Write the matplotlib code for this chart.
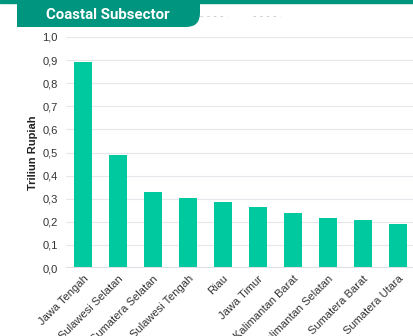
import matplotlib
matplotlib.use("Agg")
import matplotlib.pyplot as plt
from matplotlib.path import Path
from matplotlib.patches import PathPatch, Rectangle
from matplotlib.ticker import FuncFormatter

provinces = ["Jawa Tengah", "Sulawesi Selatan", "Sumatera Selatan", "Sulawesi Tengah",
             "Riau", "Jawa Timur", "Kalimantan Barat", "Kalimantan Selatan",
             "Sumatera Barat", "Sumatera Utara"]
values = [0.89, 0.49, 0.33, 0.305, 0.285, 0.265, 0.24, 0.215, 0.207, 0.19]

W, H = 413, 336
bar_color = "#00C9A0"
head_color = "#00957F"

plt.rcParams["font.family"] = ["Liberation Sans", "DejaVu Sans"]

fig = plt.figure(figsize=(W / 100, H / 100), dpi=100)

def fx(px):
    return px / W

def fy(py):
    return 1 - py / H

# top rule and title tab
fig.patches.append(Rectangle((0, fy(2.5)), 1, 2.5 / H, transform=fig.transFigure,
                             color=head_color, zorder=5))
r = 14
verts = [(17, 2), (200, 2), (200, 27 - r), (200, 27), (200 - r, 27), (17, 27), (17, 2)]
codes = [Path.MOVETO, Path.LINETO, Path.LINETO, Path.CURVE3, Path.CURVE3,
         Path.LINETO, Path.CLOSEPOLY]
tab = Path([(fx(x), fy(y)) for x, y in verts], codes)
fig.patches.append(PathPatch(tab, facecolor=head_color, edgecolor="none",
                             transform=fig.transFigure, zorder=5))
fig.text(fx(108), fy(15), "Coastal Subsector", color="white", fontsize=10.8,
         fontweight="bold", family=["Roboto", "DejaVu Sans"], ha="center", va="center",
         zorder=6)
for x0, x1 in [(200, 227), (253, 280)]:
    fig.add_artist(plt.Line2D([fx(x0), fx(x1)], [fy(16), fy(16)], transform=fig.transFigure,
                              color="#c8c8c8", lw=0.6, ls=(0, (3, 5))))

ax = fig.add_axes([fx(66), fy(268), 1 - fx(66), (268 - 37) / H])
ax.bar(range(len(values)), values, width=0.5, color=bar_color, zorder=3)
ax.set_ylim(0, 1.0)
ax.set_xlim(-0.49, 9.43)
ax.set_yticks([i / 10 for i in range(11)])
ax.yaxis.set_major_formatter(FuncFormatter(lambda v, p: f"{v:.1f}".replace(".", ",")))
ax.grid(axis="y", color="#e6e7ec", lw=0.8, zorder=0)
ax.axhline(0, color="#dcdfe6", lw=1.5, zorder=4)
for s in ax.spines.values():
    s.set_visible(False)
ax.tick_params(length=0, labelsize=8, colors="#333333")
ax.tick_params(axis="y", pad=6)
ax.tick_params(axis="x", pad=4)
ax.set_xticks(range(len(provinces)))
ax.set_xticklabels(provinces, rotation=45, ha="right", rotation_mode="anchor")
ax.set_ylabel("Triliun Rupiah", fontsize=8, fontweight="bold", color="#222222", labelpad=3)

fig.savefig("out.png", dpi=100)
